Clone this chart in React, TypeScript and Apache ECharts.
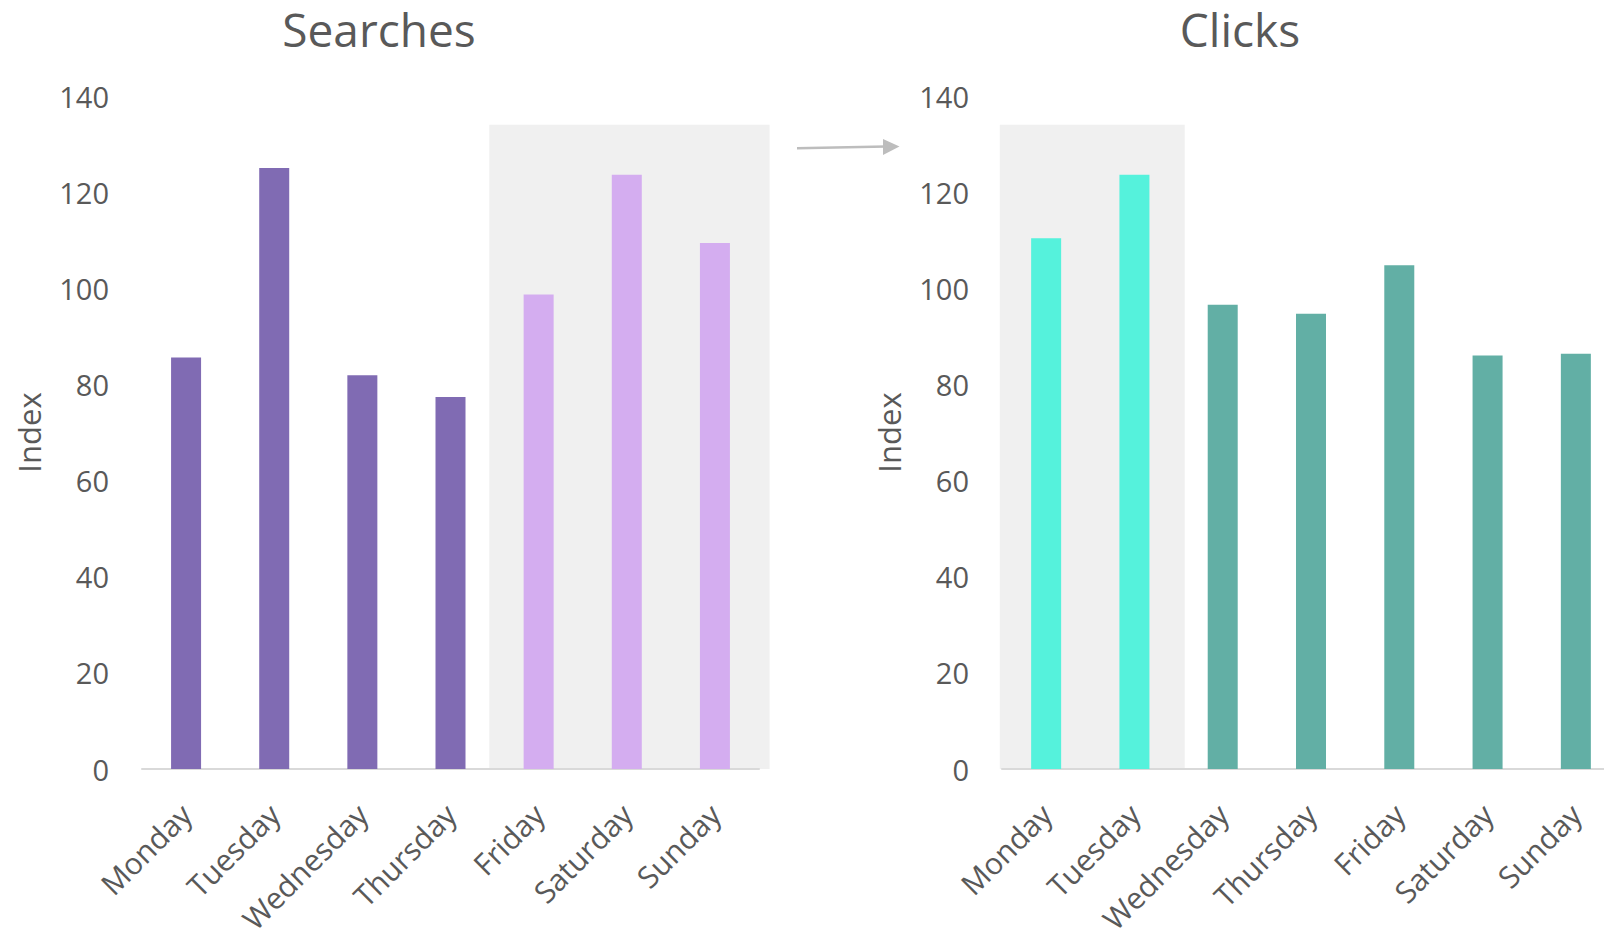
import React, { useEffect, useRef } from "react";
import * as echarts from "echarts";

// Weekly index values per day
const categories = ["Monday", "Tuesday", "Wednesday", "Thursday", "Friday", "Saturday", "Sunday"];
const searches = [85.6, 125, 81.9, 77.4, 98.7, 123.6, 109.4];
const clicks = [110.4, 123.6, 96.6, 94.7, 104.8, 86, 86.4];
// Days highlighted in each panel
const searchesHighlight = [4, 5, 6];
const clicksHighlight = [0, 1];
const yTicks = { min: 0, max: 140, interval: 20 };

const TEXT = "#595959";
const FONT = "Open Sans";

function barData(values: number[], highlight: number[], base: string, hi: string) {
  return values.map((v, i) => ({
    value: v,
    itemStyle: { color: highlight.includes(i) ? hi : base },
  }));
}

function yAxis(gridIndex: number) {
  return {
    type: "value",
    gridIndex,
    min: yTicks.min,
    max: yTicks.max,
    interval: yTicks.interval,
    name: "Index",
    nameLocation: "middle",
    nameGap: 98,
    nameTextStyle: { color: TEXT, fontSize: 31, fontFamily: FONT },
    axisLine: { show: false },
    axisTick: { show: false },
    splitLine: { show: false },
    axisLabel: { color: TEXT, fontSize: 29, fontFamily: FONT, margin: 33 },
  };
}

function xAxis(gridIndex: number) {
  return {
    type: "category",
    gridIndex,
    data: categories,
    axisLine: { show: true, lineStyle: { color: "#D9D9D9", width: 2 } },
    axisTick: { show: false },
    axisLabel: {
      color: TEXT,
      fontSize: 30,
      lineHeight: 30,
      fontFamily: FONT,
      rotate: 45,
      interval: 0,
      margin: 40,
    },
  };
}

export default function App() {
  const ref = useRef<HTMLDivElement>(null);

  useEffect(() => {
    if (!ref.current) return;
    const chart = echarts.init(ref.current, undefined, { renderer: "svg" });
    chart.setOption({
      animation: false,
      backgroundColor: "#FFFFFF",
      title: [
        {
          text: "Searches",
          left: 374,
          top: 1,
          textAlign: "center",
          textStyle: { color: TEXT, fontSize: 46, fontWeight: "normal", fontFamily: FONT },
        },
        {
          text: "Clicks",
          left: 1235,
          top: 1,
          textAlign: "center",
          textStyle: { color: TEXT, fontSize: 46, fontWeight: "normal", fontFamily: FONT },
        },
      ],
      // The right-hand panel deliberately runs past the page edge
      grid: [
        { left: 142, top: 96, width: 617, height: 673, outerBoundsMode: "none" },
        { left: 1002, top: 96, width: 618, height: 673, outerBoundsMode: "none" },
      ],
      xAxis: [xAxis(0), xAxis(1)],
      yAxis: [yAxis(0), yAxis(1)],
      series: [
        {
          type: "bar",
          xAxisIndex: 0,
          yAxisIndex: 0,
          barWidth: 30,
          data: barData(searches, searchesHighlight, "#806BB3", "#D4ADF0"),
        },
        {
          type: "bar",
          xAxisIndex: 1,
          yAxisIndex: 1,
          barWidth: 30,
          data: barData(clicks, clicksHighlight, "#62AFA5", "#55F2DC"),
        },
      ],
    });

    // Shaded bands behind the highlighted days, placed from the axes' own scales
    const px = (axis: number, name: string) =>
      chart.convertToPixel({ xAxisIndex: axis }, name) as number;
    const py = (axis: number, v: number) =>
      chart.convertToPixel({ yAxisIndex: axis }, v) as number;

    const step0 = px(0, categories[1]) - px(0, categories[0]);
    const l0 = px(0, categories[searchesHighlight[0]]) - step0 * 0.56;
    const r0 = px(0, categories[searchesHighlight[searchesHighlight.length - 1]]) + step0 * 0.62;
    const step1 = px(1, categories[1]) - px(1, categories[0]);
    const l1 = px(1, categories[clicksHighlight[0]]) - step1 * 0.525;
    const r1 = px(1, categories[clicksHighlight[clicksHighlight.length - 1]]) + step1 * 0.57;
    const top0 = py(0, 134);
    const bot0 = py(0, 0);
    const top1 = py(1, 134);
    const bot1 = py(1, 0);

    chart.setOption({
      graphic: [
        {
          type: "rect",
          z: -1,
          shape: { x: l0, y: top0, width: r0 - l0, height: bot0 - top0 },
          style: { fill: "#F0F0F0" },
          silent: true,
        },
        {
          type: "rect",
          z: -1,
          shape: { x: l1, y: top1, width: r1 - l1, height: bot1 - top1 },
          style: { fill: "#F0F0F0" },
          silent: true,
        },
        {
          type: "line",
          shape: { x1: 797, y1: 148.3, x2: 886, y2: 146.6 },
          style: { stroke: "#BDBDBD", lineWidth: 2.5 },
          silent: true,
        },
        {
          type: "polygon",
          shape: { points: [[883, 139], [899.5, 146.5], [883, 155]] },
          style: { fill: "#BDBDBD" },
          silent: true,
        },
      ],
    });

    return () => chart.dispose();
  }, []);

  return (
    <div
      ref={ref}
      style={{ position: "absolute", left: 0, top: 0, width: 1604, height: 930 }}
    />
  );
}
